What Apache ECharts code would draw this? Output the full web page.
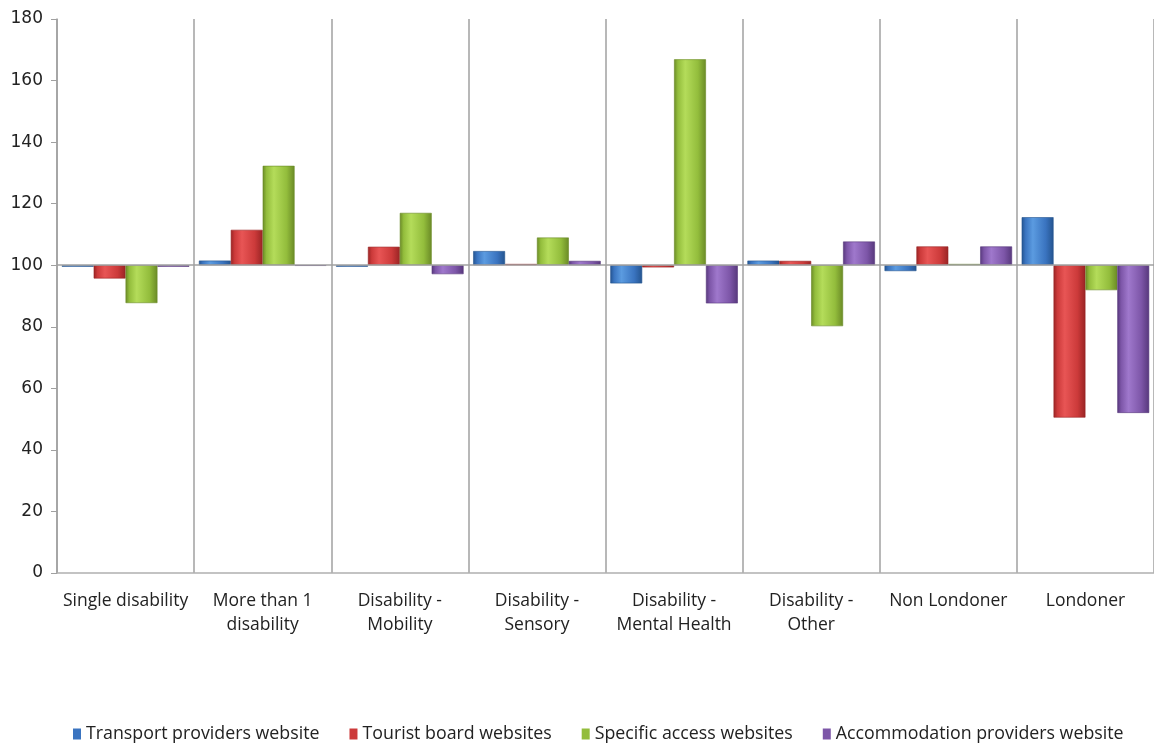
<!DOCTYPE html>
<html>
<head>
<meta charset="utf-8">
<script src="https://cdn.jsdelivr.net/npm/echarts@6/dist/echarts.min.js"></script>
<style>
html,body{margin:0;padding:0;background:#fff;}
#chart{width:1154px;height:743px;}
</style>
</head>
<body>
<div id="chart"></div>
<script>
const categories = ["Single disability", "More than 1\ndisability", "Disability -\nMobility", "Disability -\nSensory", "Disability -\nMental Health", "Disability -\nOther", "Non Londoner", "Londoner"];
const seriesNames = ["Transport providers website", "Tourist board websites", "Specific access websites", "Accommodation providers website"];
const transport = [99.5, 101.5, 99.5, 104.6, 94.1, 101.5, 98.1, 115.6];
const tourist = [95.7, 111.5, 106.0, 100.4, 99.3, 101.4, 106.1, 50.5];
const specific = [87.7, 132.3, 117.0, 109.0, 166.9, 80.2, 100.4, 91.9];
const accommodation = [99.5, 99.8, 97.1, 101.4, 87.6, 107.7, 106.1, 52.0];
const yTicks = {min: 0, max: 180, interval: 20};
const baseline = 100;

const allValues = [transport, tourist, specific, accommodation];
const colors = [
  ["#5b9be0", "#3a74c0", "#24548f"],
  ["#e85555", "#cc3a3a", "#992424"],
  ["#b4dc5a", "#93bd3c", "#6a8a26"],
  ["#9f78cc", "#7d56a8", "#57387c"]
];
function grad(c){
  return new echarts.graphic.LinearGradient(0,0,1,0,[
    {offset:0,color:c[2]},{offset:0.12,color:c[1]},{offset:0.35,color:c[0]},{offset:0.75,color:c[1]},{offset:1,color:c[2]}
  ]);
}
const series = [];
allValues.forEach((vals, i) => {
  series.push({
    type: 'bar', name: '_base' + i, stack: 's' + i, silent: true,
    data: vals.map(v => Math.min(v, baseline)),
    itemStyle: {color: 'rgba(0,0,0,0)'},
    emphasis: {disabled: true}, tooltip: {show: false},
    barCategoryGap: '7%', barGap: '0%'
  });
  const s = {
    type: 'bar', name: seriesNames[i], stack: 's' + i,
    data: vals.map(v => Math.abs(v - baseline)),
    itemStyle: {color: grad(colors[i]), borderColor: colors[i][2], borderWidth: 0.6},
    barCategoryGap: '7%', barGap: '0%'
  };
  if (i === 0) {
    s.markLine = {
      silent: true, symbol: 'none', label: {show: false},
      lineStyle: {color: '#a0a0a0', width: 1.5, type: 'solid'},
      data: [{yAxis: baseline}]
    };
  }
  series.push(s);
});

const chart = echarts.init(document.getElementById('chart'));
chart.setOption({
  animation: false,
  backgroundColor: '#fff',
  grid: {left: 57, top: 19, width: 1100, height: 554},
  legend: {
    data: seriesNames.map((n, i) => ({name: n, itemStyle: {color: colors[i][1]}})),
    top: 720, left: 68,
    icon: 'rect', itemWidth: 8, itemHeight: 11, itemGap: 30, itemStyle: {borderWidth: 0},
    textStyle: {fontFamily: 'Open Sans', fontSize: 17.8, color: '#222'}
  },
  xAxis: {
    type: 'category', data: categories,
    axisLine: {show: true, lineStyle: {color: '#b0b0b0', width: 1.5}},
    axisTick: {show: false},
    splitLine: {show: true, interval: 0, lineStyle: {color: '#a0a0a0', width: 1.5}},
    axisLabel: {interval: 0, margin: 16, fontFamily: 'Open Sans', fontSize: 17.5, lineHeight: 24, color: '#222', align: 'center'}
  },
  yAxis: {
    type: 'value', min: yTicks.min, max: yTicks.max, interval: yTicks.interval,
    axisLine: {show: true, lineStyle: {color: '#a0a0a0', width: 1.5}},
    axisTick: {show: true, length: 6, lineStyle: {color: '#a0a0a0'}},
    splitLine: {show: false},
    axisLabel: {margin: 14, fontFamily: 'DejaVu Sans', fontSize: 17, color: '#222'}
  },
  series: series
});
</script>
</body>
</html>
